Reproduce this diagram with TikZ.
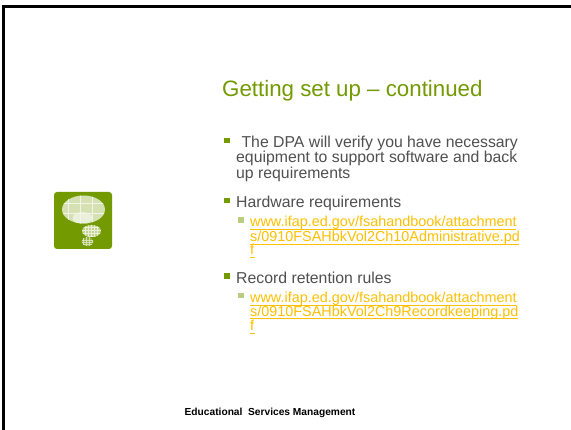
\documentclass[tikz,border=0pt]{standalone}
\usepackage{fontspec}
\setmainfont{Liberation Sans}
\definecolor{olive}{HTML}{739A00}
\definecolor{txt}{HTML}{505050}
\definecolor{lnk}{HTML}{FFC000}
\definecolor{sub}{HTML}{B9CC80}
\tikzset{
 x=1pt,y=-1pt,
 titletext/.style={anchor=base west,inner sep=0pt,font=\fontsize{22.3}{24}\selectfont,text=olive},
 bodytext/.style={anchor=base west,inner sep=0pt,font=\fontsize{15.8}{16}\selectfont,text=txt},
 linktext/.style={anchor=base west,inner sep=0pt,font=\fontsize{14.4}{16}\selectfont,text=lnk},
 footer/.style={anchor=base,inner sep=0pt,font=\fontsize{10.2}{12}\selectfont\bfseries,text=black},
 linkrule/.style={draw=lnk,line width=.9pt},
}
\begin{document}
\begin{tikzpicture}
\useasboundingbox (0,0) rectangle (571,430);
\fill[white] (0,0) rectangle (571,430);
\draw[black,line width=3pt] (3,430) -- (3,7) -- (571,7);
% icon
\fill[olive,rounded corners=3pt] (54,192) rectangle (112,249);
\begin{scope}
\clip (83.5,209.5) ellipse (21.5 and 14);
\fill[white!70!olive] (60,190) rectangle (106,225);
\fill[white!85!olive] (82.5,218) ellipse (10 and 6);
\foreach \x in {68,80,92} \draw[white!90!olive,line width=.6pt] (\x,190)--(\x,225);
\foreach \y in {203,213} \draw[white!90!olive,line width=.6pt] (60,\y)--(106,\y);
\end{scope}
\begin{scope}
\clip (91.5,231) ellipse (9.5 and 6);
\fill[white!55!olive] (80,224) rectangle (102,238);
\foreach \x in {85,88,91,94,97} \draw[white!85!olive,line width=.5pt] (\x,224)--(\x,238);
\foreach \y in {227,230,233,236} \draw[white!85!olive,line width=.5pt] (80,\y)--(102,\y);
\end{scope}
\begin{scope}
\clip (87.5,241.5) ellipse (6 and 4.5);
\fill[white!25!olive] (80,236) rectangle (95,247);
\foreach \x in {83,86,89,92} \draw[white!70!olive,line width=.5pt] (\x,237)--(\x,247);
\foreach \y in {240,242,244} \draw[white!70!olive,line width=.5pt] (80,\y)--(94,\y);
\end{scope}
% title
\node[titletext] (title) at (222,97) {Getting set up – continued};
% bullets
\fill[olive] (223.5,138) rectangle (229.5,143.5);
\node[bodytext] (b1a) at (237,148) {\ The DPA will verify you have necessary};
\node[bodytext] (b1b) at (236,163) {equipment to support software and back};
\node[bodytext] (b1c) at (236,179) {up requirements};
\fill[olive] (223.5,198) rectangle (229.5,203.5);
\node[bodytext] (b2) at (236,208) {Hardware requirements};
\fill[sub] (238,217.5) rectangle (243.5,223);
\node[linktext] (l1a) at (250,227) {www.ifap.ed.gov/fsahandbook/attachment};
\node[linktext] (l1b) at (250,242) {s/0910FSAHbkVol2Ch10Administrative.pd};
\node[linktext] (l1c) at (250,255) {f};
\foreach \a/\b/\y in {250/516/229,250/519/244,250/255/257,250/516/305,250/518/318.5,250/255/333}
  \draw[linkrule] (\a,\y)--(\b,\y);
\fill[olive] (223.5,273.5) rectangle (229.5,279);
\node[bodytext] (b3) at (236,284) {Record retention rules};
\fill[sub] (238,293) rectangle (243.5,298.5);
\node[linktext] (l2a) at (250,303) {www.ifap.ed.gov/fsahandbook/attachment};
\node[linktext] (l2b) at (250,317) {s/0910FSAHbkVol2Ch9Recordkeeping.pd};
\node[linktext] (l2c) at (250,331) {f};
\node[footer] (foot) at (270,416) {Educational\ \ Services Management};
\end{tikzpicture}
\end{document}
